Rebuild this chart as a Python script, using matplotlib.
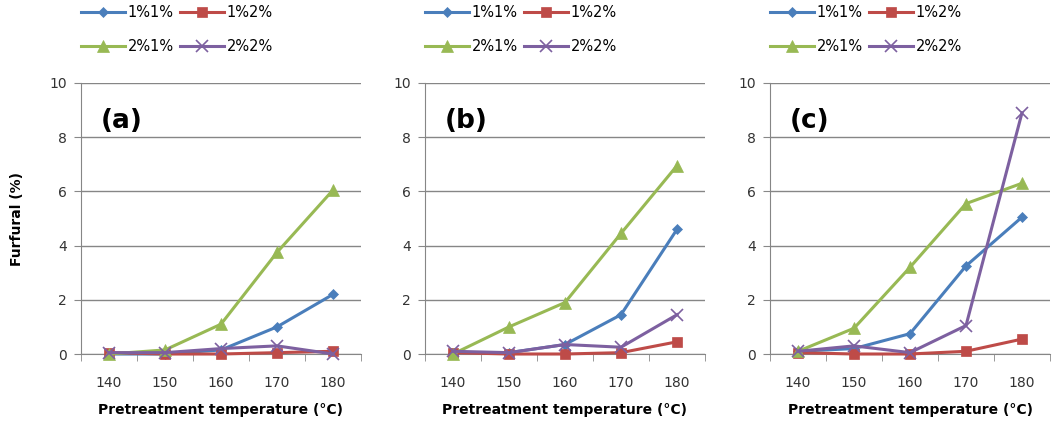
import matplotlib.pyplot as plt
from matplotlib.ticker import FixedLocator

temps = ['140', '150', '160', '170', '180']
series_names = ['1%1%', '1%2%', '2%1%', '2%2%']
panel_tags = ['(a)', '(b)', '(c)']

# furfural (%) per panel, per series
a_11 = [0.0, 0.0, 0.15, 1.0, 2.2]
a_12 = [0.05, 0.0, 0.0, 0.05, 0.1]
a_21 = [0.0, 0.15, 1.1, 3.75, 6.05]
a_22 = [0.05, 0.05, 0.2, 0.3, 0.0]

b_11 = [0.05, 0.05, 0.35, 1.45, 4.6]
b_12 = [0.05, 0.0, 0.0, 0.05, 0.45]
b_21 = [0.0, 1.0, 1.9, 4.45, 6.95]
b_22 = [0.1, 0.05, 0.35, 0.25, 1.45]

c_11 = [0.1, 0.2, 0.75, 3.25, 5.05]
c_12 = [0.05, 0.0, 0.0, 0.1, 0.55]
c_21 = [0.1, 0.95, 3.2, 5.55, 6.3]
c_22 = [0.1, 0.3, 0.05, 1.05, 8.9]

panels = [[a_11, a_12, a_21, a_22], [b_11, b_12, b_21, b_22], [c_11, c_12, c_21, c_22]]

colors = ['#4A7EBB', '#BE4B48', '#98B954', '#7D60A0']
markers = ['D', 's', '^', 'x']
msizes = [5.5, 7.5, 8.5, 8.5]

fig = plt.figure(figsize=(10.62, 4.28), dpi=100)
lefts = [81, 425, 770]
x = list(range(len(temps)))

for i, left in enumerate(lefts):
    ax = fig.add_axes([left / 1062, 1 - 354 / 428, 280 / 1062, (354 - 83) / 428])
    lines = []
    for j, vals in enumerate(panels[i]):
        ln, = ax.plot(x, vals, color=colors[j], marker=markers[j], ms=msizes[j],
                      lw=2.2, mew=1.2 if markers[j] == 'x' else 0.5, label=series_names[j],
                      clip_on=False, zorder=3)
        lines.append(ln)
    ax.set_xlim(-0.5, 4.5)
    ax.set_ylim(0, 10)
    ax.set_yticks([0, 2, 4, 6, 8, 10])
    ax.set_xticks(x)
    ax.set_xticklabels(temps)
    ax.xaxis.set_minor_locator(FixedLocator([-0.5, 0.5, 1.5, 2.5, 3.5, 4.5]))
    ax.tick_params(axis='x', which='major', length=0, pad=16, labelsize=10, colors='#333333')
    ax.tick_params(axis='x', which='minor', length=5, color='#888888')
    ax.tick_params(axis='y', length=5, color='#888888', labelsize=10, labelcolor='#333333', pad=5)
    ax.grid(axis='y', color='#868686', lw=1)
    ax.set_axisbelow(True)
    for s in ['top', 'right']:
        ax.spines[s].set_visible(False)
    ax.spines['left'].set_color('#868686')
    ax.spines['bottom'].set_color('#868686')
    ax.set_xlabel('Pretreatment temperature (°C)', fontsize=10, fontweight='bold', labelpad=9)
    if i == 0:
        ax.set_ylabel('Furfural (%)', fontsize=10, fontweight='bold', labelpad=18)
    ax.text(0.07, 0.86, panel_tags[i], transform=ax.transAxes, fontsize=19,
            fontweight='bold', va='center')
    # legend fills row by row in the reference
    order = [0, 2, 1, 3]
    ax.legend([lines[k] for k in order], [series_names[k] for k in order],
              loc='lower left', bbox_to_anchor=(-0.02, 1.085), ncol=2, frameon=False,
              fontsize=10.5, handlelength=3, handletextpad=0.2, columnspacing=0.4,
              labelspacing=1.3, borderaxespad=0)

fig.savefig('out.png', dpi=100)
